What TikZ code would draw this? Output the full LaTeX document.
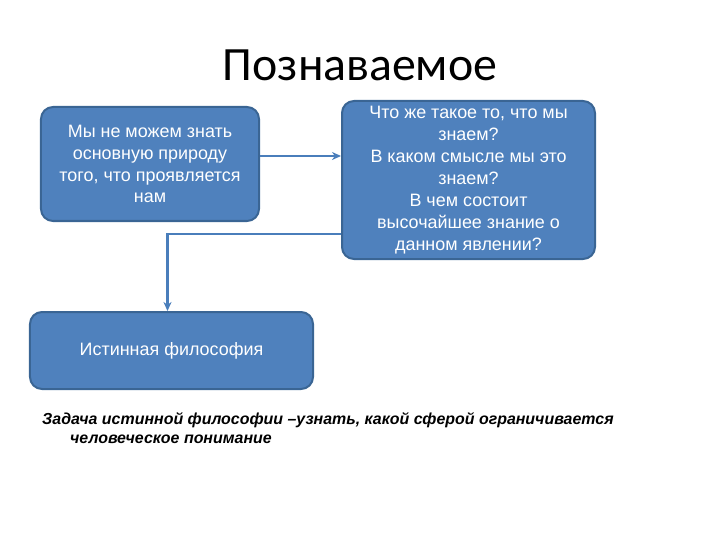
\documentclass[tikz,border=0pt]{standalone}
\usepackage{fontspec}
\setmainfont{Liberation Sans}
\newfontfamily\titlefont{Carlito}
\usetikzlibrary{arrows.meta}
\definecolor{boxblue}{HTML}{4F81BD}
\definecolor{boxedge}{HTML}{3A6594}
\definecolor{linkblue}{HTML}{4A7EBB}

\begin{document}
\begin{tikzpicture}[x=1bp, y=-1bp,
    box/.style={draw=boxedge, line width=2bp, fill=boxblue, rounded corners=12bp,
      text=white, align=center, inner sep=0pt, font=\fontsize{18}{22}\selectfont},
    link/.style={draw=linkblue, line width=2.5bp, -{Stealth[length=9bp,width=8bp]}}]
    \useasboundingbox (0,0) rectangle (720,540);
    \node[font=\titlefont\fontsize{48}{54}\selectfont] (title) at (360,65) {Познаваемое};
    % boxes
    \node[box, minimum width=218bp, minimum height=114bp] (cannot) at (150,164)
      {Мы не можем знать\\основную природу\\того, что проявляется\\нам};
    \node[box, minimum width=253bp, minimum height=158bp] (questions) at (468.5,180)
      {Что же такое то, что мы\\знаем?\\В каком смысле мы это\\знаем?\\В чем состоит\\высочайшее знание о\\данном явлении?};
    \node[box, minimum width=283bp, minimum height=77bp] (truephil) at (171.5,350.5)
      {Истинная философия};
    % links
    \draw[link] ([yshift=8bp]cannot.east) coordinate (c1) -- (questions.west |- c1);
    \draw[link] ([yshift=-54bp]questions.west) -| ([xshift=-4bp]truephil.north);
    \node[anchor=north west, align=left, inner sep=0pt,
      font=\bfseries\itshape\fontsize{16}{19}\selectfont] (task) at (42,412)
      {Задача истинной философии –узнать, какой сферой ограничивается\\
       \hspace*{28bp}человеческое понимание};
\end{tikzpicture}
\end{document}
